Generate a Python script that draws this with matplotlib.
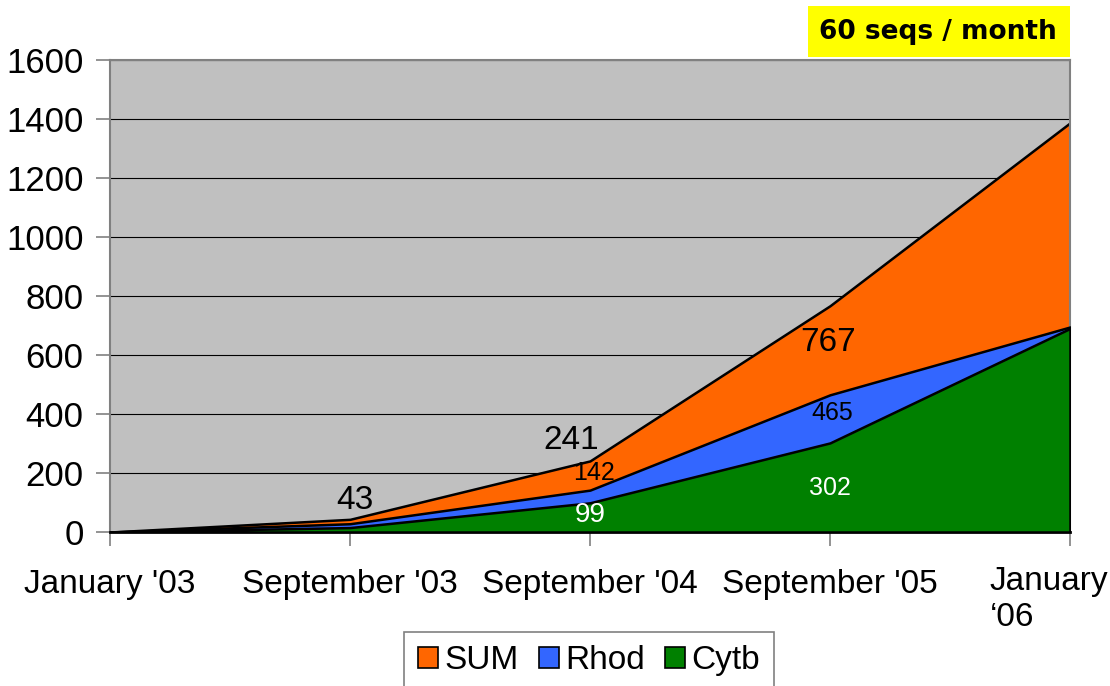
import numpy as np
import matplotlib.pyplot as plt
from matplotlib.patches import Rectangle

plt.rcParams['font.family'] = ['Liberation Sans', 'DejaVu Sans']

# sequence counts per period
periods = ["January '03", "September '03", "September '04", "September '05", "January\n\u201806"]
sum_seqs = [0, 43, 241, 767, 1387]
rhod = [0, 28, 142, 465, 695]
cytb = [0, 15, 99, 302, 690]

# value labels: (period index, value, offset px, size, colour)
labels = [(1, 43, (5, 19), 24, 'black'),
          (2, 241, (-19, 20), 24, 'black'),
          (2, 142, (4, 17), 18, 'black'),
          (2, 99, (0, -12), 20, 'white'),
          (3, 767, (-2, -37), 24, 'black'),
          (3, 465, (2, -18), 18, 'black'),
          (3, 302, (0, -45), 18, 'white')]

W, H = 1110, 686
fig = plt.figure(figsize=(W / 100, H / 100), dpi=100)
ax = fig.add_axes([110 / W, (H - 532) / H, 960 / W, 472 / H])
ax.set_facecolor('#C0C0C0')

x = np.arange(len(periods))
ax.fill_between(x, 0, sum_seqs, facecolor='#FF6600', edgecolor='black', lw=1.8, label='SUM', zorder=2)
ax.fill_between(x, 0, rhod, facecolor='#3366FF', edgecolor='black', lw=1.8, label='Rhod', zorder=3)
ax.fill_between(x, 0, cytb, facecolor='#008000', edgecolor='black', lw=1.8, label='Cytb', zorder=4)

for i, v, off, fs, c in labels:
    ax.annotate(str(v), (i, v), xytext=off, textcoords='offset pixels',
                ha='center', va='center', fontsize=fs, color=c, zorder=6)

ax.set_xlim(0, len(periods) - 1)
ax.set_ylim(0, 1600)
ax.set_yticks(np.arange(0, 1601, 200))
ax.yaxis.grid(True, color='black', lw=0.8, zorder=1)
ax.set_axisbelow(True)

ax.set_xticks(x)
ax.set_xticklabels(periods[:-1] + [''])
last = ax.text(len(periods) - 1, -0.072, periods[-1], transform=ax.get_xaxis_transform(),
               ha='left', va='top', fontsize=24, linespacing=1.2)
last.set_x(len(periods) - 1 - 0.335)
ax.tick_params(axis='x', length=10, width=1.2, color='#808080', pad=17, labelsize=24, direction='out')
ax.tick_params(axis='y', length=10, width=1.2, color='#808080', pad=9, labelsize=25, direction='out')

for s in ['top', 'right', 'left']:
    ax.spines[s].set_color('#808080')
    ax.spines[s].set_linewidth(1.5)
ax.spines['bottom'].set_color('black')
ax.spines['bottom'].set_linewidth(2)

leg = ax.legend(loc='upper center', bbox_to_anchor=(589 / W, (H - 632) / H), bbox_transform=fig.transFigure,
                ncol=3, fontsize=24, frameon=True, fancybox=False, edgecolor='#808080',
                framealpha=1, facecolor='white',
                handlelength=0.6, handleheight=0.6, handletextpad=0.2, columnspacing=0.6,
                borderpad=0.4, borderaxespad=0)
leg.get_frame().set_linewidth(1.2)
for p in leg.get_patches():
    p.set_edgecolor('black')
    p.set_linewidth(1.2)

# rate note in the top corner
fig.patches.append(Rectangle((808 / W, (H - 57) / H), 262 / W, 51 / H, transform=fig.transFigure,
                             facecolor='yellow', edgecolor='none'))
fig.text(938 / W, (H - 32) / H, '60 seqs / month', ha='center', va='center',
         fontsize=19, fontweight='bold', family='DejaVu Sans')

fig.savefig('out.png', dpi=100)
